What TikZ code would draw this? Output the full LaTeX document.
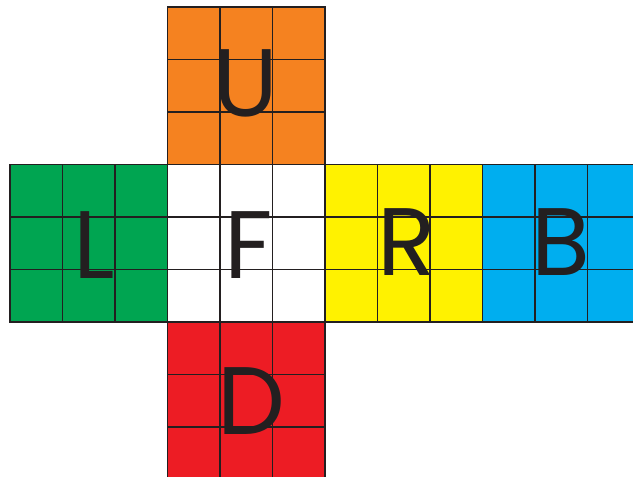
\documentclass[tikz,border=0pt]{standalone}
\usepackage{fontspec}
\newfontfamily\facefont{Poppins}
\definecolor{cuorange}{HTML}{F58220}
\definecolor{cugreen}{HTML}{00A551}
\definecolor{cuyellow}{HTML}{FFF200}
\definecolor{cublue}{HTML}{00AEEF}
\definecolor{cured}{HTML}{ED1C24}
\definecolor{culine}{HTML}{231F20}
\tikzset{
  gridline/.style={draw=culine, line width=0.6pt},
  facelabel/.style={text=culine, font=\facefont\fontsize{52}{52}\selectfont, inner sep=0pt, anchor=center}
}
\begin{document}
\begin{tikzpicture}[x=1cm,y=1cm]
\useasboundingbox (-0.1905,0.0476) rectangle (11.867,9.133);
\clip (-0.1905,0.0476) rectangle (11.867,9.133);
% faces: lower-left corners
\foreach \x/\y/\c in {3/6/cuorange, 0/3/cugreen, 3/3/white, 6/3/cuyellow, 9/3/cublue, 3/0/cured}{
  \fill[\c] (\x,\y) rectangle ++(3,3);
  \draw[gridline] (\x,\y) grid ++(3,3);
  \draw[gridline] (\x,\y) rectangle ++(3,3);
}
\node[facelabel] (U) at (4.5,7.55) {U};
\node[facelabel] (L) at (1.6,4.47) {L};
\node[facelabel] (F) at (4.55,4.47) {F};
\node[facelabel] (R) at (7.55,4.53) {R};
\node[facelabel] (B) at (10.5,4.53) {B};
\node[facelabel] (D) at (4.6,1.5) {D};
\end{tikzpicture}
\end{document}
